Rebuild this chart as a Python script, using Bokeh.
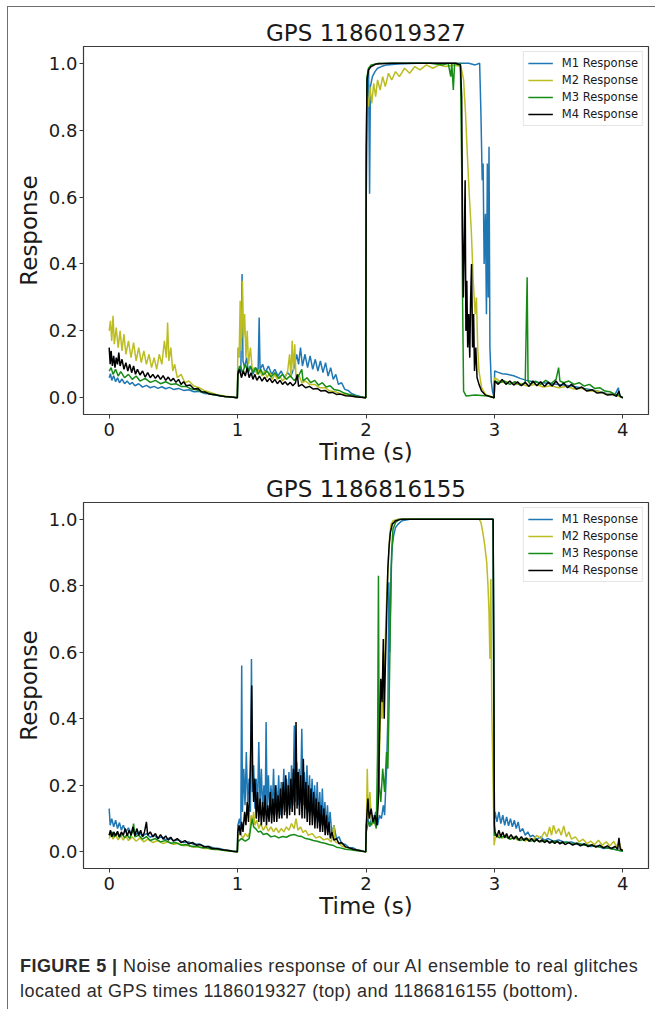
from bokeh.plotting import figure
from bokeh.models import Range1d, FixedTicker, NumeralTickFormatter, Legend, LegendItem, Div
from bokeh.layouts import column
from bokeh.embed import file_html
from bokeh.resources import INLINE

SERIES_LABELS = ["M1 Response", "M2 Response", "M3 Response", "M4 Response"]
SERIES_COLORS = ["#1f77b4", "#bcbd22", "#168c16", "#000000"]
TITLES = ["GPS 1186019327", "GPS 1186816155"]
X_TICKS = [0, 1, 2, 3, 4]
Y_TICKS = [0.0, 0.2, 0.4, 0.6, 0.8, 1.0]
CAPTION_BOLD = "FIGURE 5 |"
CAPTION_LINE1 = "Noise anomalies response of our AI ensemble to real glitches"
CAPTION_LINE2 = "located at GPS times 1186019327 (top) and 1186816155 (bottom)."

# ---------------- top panel (GPS 1186019327): (time s, response) ----------------
TOP_M1 = [(0.000,0.060),(0.010,0.072),(0.020,0.052),(0.035,0.066),(0.050,0.048),(0.065,0.060),(0.080,0.045),(0.100,0.056),(0.120,0.042),(0.140,0.050),(0.160,0.040),(0.180,0.046),(0.200,0.036),(0.230,0.042),(0.260,0.032),(0.290,0.037),(0.320,0.030),(0.350,0.034),(0.380,0.028),(0.410,0.033),(0.440,0.027),(0.470,0.031),(0.500,0.025),(0.540,0.028),(0.580,0.022),(0.620,0.024),(0.660,0.018),(0.700,0.019),(0.740,0.013),(0.780,0.012),(0.820,0.008),(0.860,0.007),(0.900,0.004),(0.950,0.002),(0.998,0.000),
    (1.002,0.075),(1.015,0.095),(1.025,0.070),(1.035,0.370),(1.042,0.110),(1.055,0.090),(1.070,0.120),(1.085,0.075),(1.100,0.095),(1.120,0.070),(1.140,0.090),(1.160,0.080),(1.168,0.240),(1.175,0.085),(1.195,0.100),(1.215,0.075),(1.240,0.095),(1.265,0.070),(1.290,0.085),(1.315,0.065),(1.340,0.080),(1.365,0.060),(1.390,0.075),(1.415,0.065),(1.440,0.090),(1.460,0.130),(1.475,0.100),(1.490,0.150),(1.505,0.095),(1.525,0.130),(1.545,0.090),(1.565,0.125),(1.585,0.085),(1.605,0.115),(1.625,0.080),(1.645,0.110),(1.665,0.075),(1.685,0.105),(1.705,0.065),(1.725,0.090),(1.745,0.055),(1.765,0.070),(1.785,0.040),(1.810,0.045),(1.835,0.025),(1.860,0.022),(1.890,0.012),(1.920,0.008),(1.960,0.003),(1.998,0.000),
    (2.002,0.600),(2.010,0.950),(2.020,0.985),(2.028,0.610),(2.034,0.930),(2.050,0.960),(2.070,0.975),(2.090,0.985),(2.120,0.990),(2.160,0.995),(2.250,0.998),(2.400,1.000),(2.600,1.000),(2.800,1.000),(2.850,0.995),(2.885,1.000),(2.895,0.850),(2.905,0.650),(2.912,0.700),(2.920,0.400),(2.930,0.550),(2.938,0.250),(2.945,0.700),(2.952,0.300),(2.958,0.750),(2.965,0.150),(2.975,0.050),(2.985,0.020),(2.998,0.000),
    (3.002,0.080),(3.030,0.076),(3.060,0.072),(3.100,0.070),(3.150,0.066),(3.200,0.058),(3.250,0.052),(3.300,0.048),(3.350,0.046),(3.400,0.044),(3.450,0.042),(3.500,0.040),(3.600,0.035),(3.700,0.028),(3.800,0.020),(3.880,0.012),(3.940,0.010),(3.965,0.030),(3.975,0.006),(4.000,0.000)]

TOP_M2 = [(0.000,0.200),(0.010,0.230),(0.020,0.170),(0.030,0.245),(0.040,0.160),(0.055,0.210),(0.070,0.150),(0.085,0.200),(0.100,0.140),(0.115,0.190),(0.130,0.130),(0.150,0.170),(0.170,0.120),(0.190,0.165),(0.210,0.110),(0.230,0.150),(0.250,0.105),(0.270,0.140),(0.290,0.100),(0.310,0.130),(0.330,0.090),(0.350,0.120),(0.370,0.085),(0.390,0.130),(0.410,0.100),(0.430,0.170),(0.445,0.120),(0.455,0.225),(0.465,0.110),(0.480,0.150),(0.495,0.080),(0.510,0.100),(0.530,0.060),(0.560,0.070),(0.590,0.045),(0.620,0.050),(0.660,0.035),(0.700,0.030),(0.750,0.020),(0.800,0.014),(0.850,0.008),(0.900,0.005),(0.950,0.002),(0.998,0.000),
    (1.002,0.150),(1.012,0.120),(1.020,0.290),(1.028,0.140),(1.038,0.350),(1.045,0.180),(1.055,0.250),(1.065,0.120),(1.075,0.200),(1.085,0.100),(1.100,0.150),(1.115,0.080),(1.130,0.090),(1.150,0.070),(1.170,0.085),(1.190,0.065),(1.210,0.080),(1.230,0.060),(1.250,0.075),(1.270,0.055),(1.290,0.070),(1.310,0.055),(1.330,0.065),(1.350,0.050),(1.370,0.060),(1.390,0.080),(1.405,0.130),(1.415,0.060),(1.425,0.170),(1.435,0.080),(1.445,0.160),(1.455,0.060),(1.475,0.070),(1.500,0.045),(1.530,0.050),(1.560,0.040),(1.600,0.040),(1.640,0.030),(1.680,0.030),(1.720,0.020),(1.760,0.018),(1.800,0.012),(1.850,0.008),(1.900,0.004),(1.950,0.002),(1.998,0.000),
    (2.002,0.620),(2.010,0.900),(2.020,0.870),(2.030,0.930),(2.045,0.880),(2.060,0.940),(2.075,0.900),(2.090,0.950),(2.110,0.920),(2.130,0.960),(2.150,0.930),(2.175,0.970),(2.200,0.950),(2.230,0.975),(2.260,0.960),(2.300,0.985),(2.340,0.970),(2.380,0.990),(2.420,0.980),(2.470,0.995),(2.520,0.985),(2.570,0.995),(2.620,0.990),(2.680,0.995),(2.740,0.990),(2.760,0.950),(2.775,0.850),(2.790,0.720),(2.805,0.600),(2.820,0.500),(2.835,0.350),(2.850,0.250),(2.860,0.300),(2.870,0.150),(2.880,0.080),(2.900,0.030),(2.930,0.010),(2.998,0.000),
    (3.002,0.060),(3.040,0.050),(3.080,0.045),(3.120,0.048),(3.160,0.040),(3.200,0.042),(3.260,0.035),(3.320,0.040),(3.380,0.032),(3.440,0.036),(3.500,0.030),(3.560,0.034),(3.620,0.026),(3.680,0.028),(3.740,0.020),(3.800,0.020),(3.860,0.012),(3.920,0.010),(3.960,0.006),(4.000,0.000)]

TOP_M3 = [(0.000,0.080),(0.015,0.090),(0.030,0.070),(0.050,0.085),(0.070,0.065),(0.090,0.078),(0.120,0.060),(0.150,0.070),(0.180,0.055),(0.210,0.065),(0.240,0.050),(0.280,0.058),(0.320,0.046),(0.360,0.052),(0.400,0.042),(0.440,0.048),(0.480,0.040),(0.520,0.042),(0.560,0.034),(0.600,0.034),(0.640,0.026),(0.680,0.024),(0.720,0.018),(0.760,0.015),(0.800,0.010),(0.850,0.007),(0.900,0.004),(0.950,0.002),(0.998,0.000),
    (1.002,0.080),(1.020,0.095),(1.040,0.075),(1.060,0.100),(1.080,0.080),(1.100,0.095),(1.120,0.075),(1.140,0.090),(1.160,0.070),(1.180,0.085),(1.200,0.068),(1.230,0.080),(1.260,0.062),(1.290,0.075),(1.320,0.058),(1.350,0.070),(1.380,0.055),(1.410,0.066),(1.440,0.052),(1.470,0.062),(1.500,0.085),(1.510,0.050),(1.540,0.060),(1.570,0.045),(1.600,0.052),(1.630,0.038),(1.660,0.045),(1.690,0.032),(1.720,0.036),(1.750,0.025),(1.790,0.022),(1.830,0.014),(1.870,0.010),(1.920,0.005),(1.960,0.002),(1.998,0.000),
    (2.002,0.700),(2.008,0.960),(2.020,0.985),(2.040,0.995),(2.100,1.000),(2.300,1.000),(2.500,1.000),(2.600,0.995),(2.640,1.000),(2.660,0.960),(2.668,1.000),(2.680,0.920),(2.690,1.000),(2.720,0.995),(2.735,1.000),(2.745,0.700),(2.752,0.300),(2.760,0.020),(2.780,0.005),(2.850,0.008),(2.950,0.005),(2.998,0.000),
    (3.002,0.050),(3.040,0.045),(3.080,0.050),(3.120,0.040),(3.160,0.048),(3.200,0.038),(3.240,0.045),(3.255,0.360),(3.262,0.050),(3.280,0.040),(3.320,0.050),(3.360,0.040),(3.400,0.052),(3.440,0.042),(3.480,0.055),(3.500,0.090),(3.510,0.050),(3.540,0.045),(3.580,0.050),(3.620,0.040),(3.660,0.045),(3.700,0.035),(3.740,0.040),(3.780,0.028),(3.820,0.030),(3.860,0.020),(3.900,0.018),(3.940,0.010),(3.970,0.008),(4.000,0.000)]

TOP_M4 = [(0.000,0.150),(0.008,0.100),(0.015,0.140),(0.025,0.095),(0.035,0.125),(0.045,0.090),(0.055,0.120),(0.065,0.100),(0.075,0.135),(0.085,0.095),(0.100,0.115),(0.115,0.085),(0.130,0.105),(0.145,0.080),(0.160,0.100),(0.175,0.075),(0.190,0.095),(0.205,0.070),(0.220,0.085),(0.240,0.068),(0.260,0.080),(0.280,0.062),(0.300,0.075),(0.320,0.060),(0.340,0.070),(0.360,0.058),(0.380,0.068),(0.400,0.055),(0.420,0.066),(0.440,0.052),(0.460,0.062),(0.480,0.050),(0.500,0.058),(0.520,0.046),(0.540,0.055),(0.560,0.040),(0.580,0.048),(0.600,0.036),(0.630,0.038),(0.660,0.026),(0.690,0.028),(0.720,0.018),(0.750,0.017),(0.780,0.011),(0.820,0.010),(0.860,0.006),(0.900,0.004),(0.950,0.002),(0.998,0.000),
    (1.002,0.070),(1.015,0.085),(1.030,0.060),(1.045,0.080),(1.060,0.065),(1.075,0.090),(1.090,0.060),(1.105,0.075),(1.120,0.055),(1.135,0.070),(1.150,0.052),(1.170,0.065),(1.190,0.050),(1.210,0.062),(1.230,0.048),(1.250,0.058),(1.270,0.045),(1.290,0.055),(1.310,0.042),(1.330,0.052),(1.350,0.040),(1.370,0.048),(1.390,0.038),(1.410,0.046),(1.430,0.036),(1.450,0.044),(1.465,0.070),(1.475,0.034),(1.500,0.040),(1.530,0.030),(1.560,0.034),(1.590,0.026),(1.620,0.028),(1.650,0.020),(1.680,0.022),(1.710,0.015),(1.740,0.016),(1.770,0.010),(1.800,0.011),(1.840,0.006),(1.880,0.005),(1.930,0.002),(1.998,0.000),
    (2.002,0.750),(2.008,0.950),(2.020,0.980),(2.040,0.990),(2.080,0.998),(2.200,1.000),(2.500,1.000),(2.700,1.000),(2.735,0.995),(2.745,0.900),(2.752,0.500),(2.758,0.300),(2.765,0.450),(2.772,0.650),(2.778,0.200),(2.785,0.350),(2.792,0.150),(2.800,0.250),(2.808,0.120),(2.815,0.300),(2.822,0.400),(2.830,0.150),(2.838,0.250),(2.845,0.080),(2.855,0.150),(2.865,0.060),(2.880,0.040),(2.900,0.020),(2.930,0.008),(2.998,0.000),
    (3.002,0.050),(3.030,0.040),(3.060,0.055),(3.090,0.040),(3.120,0.050),(3.150,0.038),(3.180,0.048),(3.210,0.036),(3.240,0.046),(3.270,0.034),(3.300,0.050),(3.330,0.036),(3.360,0.048),(3.390,0.034),(3.420,0.046),(3.450,0.035),(3.480,0.050),(3.510,0.034),(3.540,0.044),(3.570,0.030),(3.600,0.040),(3.640,0.026),(3.680,0.032),(3.720,0.020),(3.760,0.024),(3.800,0.014),(3.840,0.016),(3.880,0.008),(3.920,0.010),(3.950,0.004),(3.970,0.020),(3.980,0.004),(4.000,0.000)]

# ---------------- bottom panel (GPS 1186816155) ----------------
BOT_M1 = [(0.000,0.130),(0.008,0.080),(0.020,0.100),(0.035,0.075),(0.050,0.095),(0.065,0.070),(0.080,0.088),(0.095,0.065),(0.110,0.080),(0.130,0.060),(0.150,0.072),(0.170,0.055),(0.190,0.066),(0.210,0.052),(0.230,0.060),(0.260,0.048),(0.290,0.055),(0.320,0.044),(0.350,0.050),(0.380,0.040),(0.410,0.046),(0.440,0.036),(0.470,0.042),(0.500,0.034),(0.540,0.036),(0.580,0.028),(0.620,0.030),(0.660,0.022),(0.700,0.024),(0.740,0.017),(0.780,0.016),(0.820,0.011),(0.860,0.010),(0.900,0.006),(0.950,0.003),(0.998,0.000),
    (1.002,0.080),(1.015,0.100),(1.025,0.070),(1.032,0.560),(1.038,0.120),(1.048,0.250),(1.058,0.140),(1.068,0.300),(1.078,0.150),(1.090,0.220),(1.100,0.120),(1.108,0.580),(1.115,0.180),(1.125,0.260),(1.135,0.130),(1.145,0.220),(1.155,0.120),(1.165,0.330),(1.175,0.140),(1.185,0.250),(1.195,0.120),(1.205,0.200),(1.215,0.110),(1.222,0.390),(1.230,0.130),(1.240,0.230),(1.250,0.110),(1.260,0.200),(1.270,0.120),(1.280,0.250),(1.290,0.110),(1.300,0.200),(1.310,0.120),(1.320,0.230),(1.330,0.110),(1.340,0.210),(1.350,0.130),(1.360,0.250),(1.370,0.120),(1.380,0.220),(1.390,0.140),(1.400,0.240),(1.410,0.130),(1.420,0.260),(1.430,0.140),(1.442,0.380),(1.450,0.150),(1.460,0.270),(1.470,0.140),(1.480,0.250),(1.490,0.150),(1.500,0.370),(1.510,0.140),(1.520,0.240),(1.530,0.130),(1.540,0.260),(1.550,0.120),(1.560,0.230),(1.570,0.120),(1.580,0.220),(1.590,0.110),(1.600,0.200),(1.610,0.100),(1.620,0.210),(1.630,0.090),(1.640,0.180),(1.650,0.080),(1.660,0.190),(1.670,0.080),(1.680,0.150),(1.690,0.070),(1.700,0.140),(1.710,0.060),(1.720,0.120),(1.735,0.050),(1.750,0.080),(1.770,0.040),(1.790,0.045),(1.810,0.025),(1.840,0.022),(1.870,0.012),(1.900,0.012),(1.930,0.006),(1.960,0.004),(1.998,0.000),
    (2.002,0.080),(2.015,0.100),(2.030,0.075),(2.045,0.110),(2.060,0.085),(2.075,0.120),(2.090,0.080),(2.105,0.110),(2.120,0.100),(2.135,0.140),(2.145,0.110),(2.160,0.250),(2.170,0.400),(2.178,0.810),(2.185,0.600),(2.195,0.850),(2.205,0.920),(2.215,0.950),(2.230,0.975),(2.250,0.985),(2.280,0.995),(2.350,1.000),(2.600,1.000),(2.900,1.000),(2.990,1.000),(2.995,0.500),(3.000,0.100),
    (3.005,0.120),(3.020,0.090),(3.035,0.120),(3.050,0.085),(3.065,0.110),(3.080,0.080),(3.095,0.105),(3.110,0.078),(3.125,0.100),(3.140,0.075),(3.155,0.095),(3.170,0.070),(3.185,0.090),(3.200,0.060),(3.220,0.070),(3.240,0.050),(3.260,0.060),(3.280,0.045),(3.300,0.050),(3.330,0.038),(3.360,0.045),(3.390,0.035),(3.420,0.040),(3.460,0.032),(3.500,0.036),(3.550,0.028),(3.600,0.030),(3.650,0.022),(3.700,0.024),(3.750,0.016),(3.800,0.018),(3.850,0.010),(3.900,0.012),(3.950,0.006),(4.000,0.002)]

BOT_M2 = [(0.000,0.040),(0.015,0.055),(0.030,0.038),(0.050,0.052),(0.070,0.036),(0.090,0.050),(0.110,0.035),(0.130,0.048),(0.150,0.034),(0.180,0.045),(0.210,0.032),(0.240,0.042),(0.270,0.030),(0.300,0.038),(0.340,0.028),(0.380,0.034),(0.420,0.025),(0.460,0.030),(0.500,0.022),(0.540,0.026),(0.580,0.018),(0.620,0.020),(0.660,0.014),(0.700,0.016),(0.740,0.010),(0.780,0.011),(0.820,0.007),(0.860,0.007),(0.900,0.004),(0.950,0.002),(0.998,0.000),
    (1.002,0.045),(1.020,0.060),(1.040,0.040),(1.060,0.055),(1.080,0.045),(1.095,0.060),(1.105,0.110),(1.115,0.090),(1.125,0.120),(1.135,0.080),(1.150,0.095),(1.165,0.070),(1.180,0.085),(1.200,0.065),(1.220,0.080),(1.240,0.062),(1.260,0.075),(1.280,0.060),(1.300,0.072),(1.320,0.058),(1.340,0.070),(1.360,0.060),(1.380,0.075),(1.400,0.065),(1.420,0.085),(1.440,0.070),(1.455,0.100),(1.470,0.065),(1.490,0.075),(1.510,0.058),(1.530,0.065),(1.550,0.050),(1.580,0.055),(1.610,0.042),(1.640,0.046),(1.670,0.036),(1.700,0.040),(1.730,0.030),(1.750,0.080),(1.760,0.030),(1.790,0.025),(1.820,0.016),(1.860,0.012),(1.900,0.007),(1.950,0.004),(1.998,0.000),
    (2.002,0.060),(2.010,0.250),(2.018,0.100),(2.030,0.180),(2.045,0.080),(2.060,0.110),(2.075,0.090),(2.090,0.130),(2.105,0.300),(2.115,0.450),(2.125,0.400),(2.135,0.600),(2.145,0.550),(2.155,0.700),(2.165,0.800),(2.175,0.880),(2.185,0.950),(2.195,0.985),(2.210,0.995),(2.250,1.000),(2.600,1.000),(2.880,1.000),(2.895,0.990),(2.910,0.960),(2.925,0.920),(2.940,0.870),(2.950,0.800),(2.958,0.720),(2.965,0.580),(2.972,0.820),(2.980,0.420),(2.990,0.200),(2.998,0.020),
    (3.005,0.040),(3.030,0.050),(3.060,0.040),(3.090,0.050),(3.120,0.038),(3.150,0.045),(3.180,0.035),(3.210,0.042),(3.240,0.032),(3.270,0.040),(3.300,0.035),(3.330,0.050),(3.360,0.040),(3.390,0.060),(3.410,0.045),(3.430,0.075),(3.445,0.050),(3.460,0.080),(3.480,0.055),(3.500,0.070),(3.520,0.050),(3.540,0.078),(3.560,0.045),(3.580,0.060),(3.600,0.038),(3.630,0.045),(3.660,0.030),(3.690,0.038),(3.720,0.025),(3.750,0.032),(3.780,0.022),(3.810,0.035),(3.840,0.020),(3.870,0.030),(3.900,0.018),(3.930,0.032),(3.950,0.015),(3.970,0.030),(3.985,0.010),(4.000,0.005)]

BOT_M3 = [(0.000,0.050),(0.020,0.060),(0.040,0.045),(0.060,0.058),(0.080,0.044),(0.100,0.055),(0.120,0.042),(0.140,0.052),(0.160,0.040),(0.180,0.060),(0.190,0.085),(0.200,0.045),(0.230,0.050),(0.260,0.038),(0.290,0.046),(0.320,0.034),(0.360,0.040),(0.400,0.030),(0.440,0.034),(0.480,0.026),(0.520,0.028),(0.560,0.020),(0.600,0.022),(0.640,0.016),(0.680,0.017),(0.720,0.012),(0.760,0.012),(0.800,0.008),(0.850,0.007),(0.900,0.004),(0.950,0.002),(0.998,0.000),
    (1.002,0.030),(1.030,0.040),(1.060,0.032),(1.090,0.040),(1.105,0.080),(1.115,0.100),(1.125,0.075),(1.140,0.070),(1.160,0.060),(1.180,0.062),(1.200,0.052),(1.230,0.055),(1.260,0.045),(1.290,0.048),(1.320,0.042),(1.350,0.046),(1.380,0.044),(1.410,0.050),(1.440,0.052),(1.470,0.048),(1.500,0.046),(1.530,0.040),(1.560,0.038),(1.590,0.034),(1.620,0.032),(1.650,0.028),(1.680,0.026),(1.710,0.022),(1.740,0.020),(1.770,0.014),(1.800,0.012),(1.840,0.008),(1.880,0.006),(1.930,0.003),(1.998,0.000),
    (2.002,0.060),(2.020,0.090),(2.040,0.080),(2.060,0.100),(2.080,0.070),(2.090,0.300),(2.097,0.830),(2.103,0.200),(2.115,0.150),(2.130,0.250),(2.145,0.180),(2.160,0.300),(2.170,0.250),(2.180,0.450),(2.190,0.700),(2.200,0.900),(2.210,0.970),(2.230,0.990),(2.260,1.000),(2.600,1.000),(2.990,1.000),(2.995,0.500),(3.000,0.050),
    (3.005,0.050),(3.040,0.042),(3.080,0.048),(3.120,0.038),(3.160,0.044),(3.200,0.034),(3.240,0.040),(3.280,0.032),(3.320,0.036),(3.360,0.030),(3.400,0.034),(3.440,0.028),(3.480,0.032),(3.520,0.026),(3.560,0.030),(3.600,0.024),(3.650,0.026),(3.700,0.020),(3.750,0.020),(3.800,0.015),(3.850,0.014),(3.900,0.010),(3.950,0.006),(4.000,0.002)]

BOT_M4 = [(0.000,0.050),(0.010,0.065),(0.020,0.045),(0.035,0.060),(0.050,0.048),(0.065,0.062),(0.080,0.045),(0.095,0.060),(0.110,0.050),(0.125,0.070),(0.140,0.048),(0.155,0.065),(0.170,0.050),(0.185,0.075),(0.200,0.048),(0.215,0.070),(0.230,0.050),(0.245,0.065),(0.260,0.045),(0.275,0.060),(0.290,0.090),(0.300,0.050),(0.320,0.060),(0.340,0.045),(0.360,0.055),(0.380,0.040),(0.400,0.052),(0.420,0.038),(0.440,0.048),(0.460,0.035),(0.480,0.044),(0.500,0.032),(0.530,0.040),(0.560,0.028),(0.590,0.034),(0.620,0.024),(0.650,0.028),(0.680,0.020),(0.710,0.022),(0.740,0.015),(0.770,0.016),(0.800,0.010),(0.840,0.010),(0.880,0.006),(0.920,0.005),(0.960,0.002),(0.998,0.000),
    (1.002,0.060),(1.012,0.080),(1.022,0.050),(1.032,0.090),(1.042,0.060),(1.055,0.120),(1.065,0.080),(1.075,0.150),(1.085,0.090),(1.095,0.200),(1.103,0.320),(1.110,0.500),(1.117,0.250),(1.125,0.150),(1.135,0.220),(1.145,0.100),(1.155,0.180),(1.165,0.090),(1.175,0.160),(1.185,0.080),(1.195,0.150),(1.205,0.090),(1.215,0.170),(1.225,0.080),(1.235,0.140),(1.245,0.090),(1.255,0.180),(1.265,0.085),(1.275,0.160),(1.285,0.090),(1.295,0.200),(1.305,0.090),(1.315,0.170),(1.325,0.100),(1.335,0.190),(1.345,0.100),(1.355,0.210),(1.365,0.110),(1.375,0.230),(1.385,0.100),(1.395,0.200),(1.405,0.110),(1.415,0.220),(1.425,0.120),(1.435,0.250),(1.445,0.110),(1.455,0.390),(1.463,0.130),(1.472,0.240),(1.482,0.110),(1.492,0.230),(1.502,0.100),(1.512,0.280),(1.522,0.100),(1.532,0.210),(1.542,0.090),(1.552,0.200),(1.562,0.080),(1.572,0.190),(1.582,0.080),(1.592,0.180),(1.602,0.070),(1.612,0.160),(1.622,0.070),(1.632,0.150),(1.642,0.060),(1.652,0.140),(1.662,0.060),(1.672,0.130),(1.682,0.050),(1.692,0.110),(1.702,0.050),(1.712,0.090),(1.722,0.040),(1.735,0.060),(1.750,0.035),(1.770,0.040),(1.790,0.025),(1.810,0.028),(1.840,0.015),(1.870,0.012),(1.900,0.008),(1.940,0.005),(1.998,0.000),
    (2.002,0.080),(2.015,0.160),(2.025,0.100),(2.040,0.130),(2.055,0.090),(2.070,0.110),(2.085,0.080),(2.095,0.150),(2.105,0.350),(2.115,0.520),(2.125,0.450),(2.135,0.640),(2.142,0.400),(2.150,0.550),(2.160,0.700),(2.170,0.850),(2.180,0.920),(2.190,0.960),(2.205,0.985),(2.230,0.995),(2.280,1.000),(2.600,1.000),(2.990,1.000),(2.995,0.600),(3.000,0.080),
    (3.005,0.060),(3.020,0.045),(3.035,0.065),(3.050,0.045),(3.065,0.060),(3.080,0.042),(3.095,0.055),(3.110,0.040),(3.130,0.052),(3.150,0.038),(3.170,0.048),(3.190,0.035),(3.210,0.046),(3.230,0.034),(3.250,0.042),(3.270,0.032),(3.290,0.040),(3.310,0.030),(3.330,0.038),(3.350,0.030),(3.370,0.036),(3.390,0.028),(3.410,0.034),(3.430,0.026),(3.450,0.033),(3.470,0.025),(3.490,0.032),(3.510,0.024),(3.530,0.030),(3.550,0.022),(3.580,0.028),(3.610,0.020),(3.640,0.026),(3.670,0.018),(3.700,0.024),(3.730,0.016),(3.760,0.022),(3.790,0.014),(3.820,0.020),(3.850,0.012),(3.880,0.018),(3.910,0.010),(3.940,0.016),(3.960,0.008),(3.970,0.042),(3.980,0.008),(4.000,0.004)]

PANELS = [
    (TITLES[0], [TOP_M1, TOP_M2, TOP_M3, TOP_M4]),
    (TITLES[1], [BOT_M1, BOT_M2, BOT_M3, BOT_M4]),
]

FONT = "DejaVu Sans"
TEXT_COLOR = "#1a1a1a"
FRAME_COLOR = "#3a3a3a"


def make_panel(title, series, height, border_top, border_bottom):
    p = figure(width=645, height=height,
               x_range=Range1d(-0.2, 4.2), y_range=Range1d(-0.05, 1.05),
               output_backend="svg", toolbar_location=None,
               min_border_left=75, min_border_right=5,
               min_border_top=border_top, min_border_bottom=border_bottom,
               x_axis_label="Time (s)", y_axis_label="Response")
    p.title.text = title
    p.title.align = "center"
    p.title.text_font = FONT
    p.title.text_font_size = "23px"
    p.title.text_font_style = "normal"
    p.title.text_color = TEXT_COLOR
    p.title.standoff = 2
    p.grid.visible = False
    p.outline_line_color = FRAME_COLOR
    p.outline_line_width = 1.2
    p.background_fill_color = "white"
    p.border_fill_color = "white"

    for ax in (p.xaxis[0], p.yaxis[0]):
        ax.axis_line_color = FRAME_COLOR
        ax.major_tick_line_color = FRAME_COLOR
        ax.major_tick_out = 4
        ax.major_tick_in = 0
        ax.minor_tick_line_color = None
        ax.major_label_text_font = FONT
        ax.major_label_text_font_size = "18px"
        ax.major_label_text_color = TEXT_COLOR
        ax.axis_label_text_font = FONT
        ax.axis_label_text_font_size = "23px"
        ax.axis_label_text_font_style = "normal"
        ax.axis_label_text_color = TEXT_COLOR
    p.xaxis[0].ticker = FixedTicker(ticks=X_TICKS)
    p.yaxis[0].ticker = FixedTicker(ticks=Y_TICKS)
    p.yaxis[0].formatter = NumeralTickFormatter(format="0.0")
    p.xaxis[0].major_label_standoff = 4
    p.xaxis[0].axis_label_standoff = 0
    p.yaxis[0].major_label_standoff = 2
    p.yaxis[0].axis_label_standoff = 4

    items = []
    for lab, col, pts in zip(SERIES_LABELS, SERIES_COLORS, series):
        xs = [t for t, _ in pts]
        ys = [r for _, r in pts]
        r = p.line(xs, ys, line_color=col, line_width=1.5)
        items.append(LegendItem(label=lab, renderers=[r]))

    legend = Legend(items=items, location="top_right",
                    label_text_font=FONT, label_text_font_size="11.5px",
                    label_text_color=TEXT_COLOR,
                    glyph_width=25, glyph_height=14, label_height=14,
                    label_standoff=9, spacing=3, padding=4, margin=5,
                    border_line_color="#cccccc", border_line_width=1,
                    background_fill_color="white", background_fill_alpha=0.85)
    p.add_layout(legend)
    return p


top = make_panel(PANELS[0][0], PANELS[0][1], 462, 39, 55)
bot = make_panel(PANELS[1][0], PANELS[1][1], 460, 33, 61)

caption = Div(
    text=('<div style="padding:20px 0 0 7px; font-family:\'Liberation Sans\', Arial, sans-serif; '
          'font-size:18px; line-height:25px; color:#2b2b2b; letter-spacing:0.45px; white-space:nowrap;">'
          '<b>' + CAPTION_BOLD + '</b> ' + CAPTION_LINE1 + '<br>' + CAPTION_LINE2 + '</div>'),
    width=645, height=71)

layout = column(top, bot, caption,
                styles={"border-left": "1.5px solid #6e6e6e", "border-top": "1.5px solid #6e6e6e",
                        "margin-left": "7px", "margin-top": "6px"})

open("out.html", "w").write(file_html(layout, INLINE))
